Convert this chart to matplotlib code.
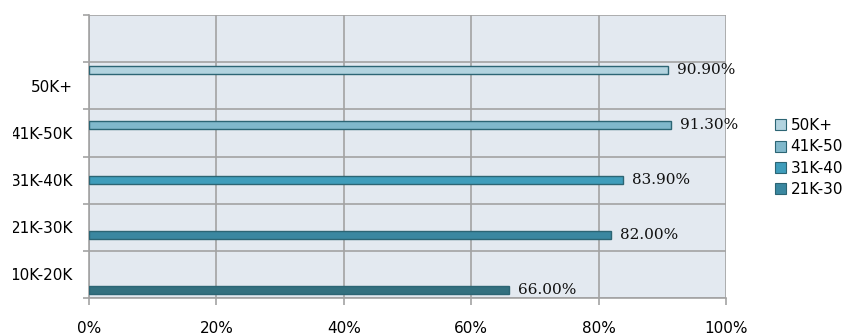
import matplotlib
matplotlib.use("Agg")
from matplotlib import pyplot as plt
from matplotlib.patches import Patch
from matplotlib.transforms import Bbox, TransformedBbox

categories = ["10K-20K", "21K-30K", "31K-40K", "41K-50K", "50K+", ""]
series_names = ["10K-20K", "21K-30K", "31K-40K", "41K-50K", "50K+"]
values = [66.0, 82.0, 83.9, 91.3, 90.9]
value_labels = ["66.00%", "82.00%", "83.90%", "91.30%", "90.90%"]
legend_names = ["50K+", "41K-50", "31K-40", "21K-30"]
x_ticks = [0, 20, 40, 60, 80, 100]
x_tick_labels = ["0%", "20%", "40%", "60%", "80%", "100%"]

fills = ["#33707f", "#3a87a0", "#3f9dbb", "#80b8cb", "#b2d3df"]
edge = "#2c6574"
grid_c = "#a3a3a3"
sans = "DejaVu Sans"

W, H = 846, 336
fig = plt.figure(figsize=(W / 100, H / 100), dpi=100)
ax = fig.add_axes([89 / W, 38 / H, 637 / W, 283 / H])
ax.set_facecolor("#e3e9f0")

# each category holds one series, clustered like a 5-series bar chart
slot = 0.163
bar_h = 0.165
for i, (name, v) in enumerate(zip(series_names, values)):
    y = i + (i - 2) * slot
    ax.barh(y, v, height=bar_h, color=fills[i], edgecolor=edge, linewidth=1.0, zorder=3)
    ax.annotate(value_labels[i], (v, y), xytext=(6.5, 0), textcoords="offset points",
                va="center", ha="left", fontsize=11, family="DejaVu Serif",
                color="#111111", zorder=4, annotation_clip=False)

ax.set_xlim(0, 100)
ax.set_ylim(-0.5, len(categories) - 0.5)

ax.set_xticks(x_ticks)
ax.set_xticklabels(x_tick_labels, fontsize=11, family=sans, color="#000000")
ax.set_yticks(range(len(categories)))
ax.set_yticklabels(categories, fontsize=11, family=sans, color="#000000")
ax.set_yticks([k - 0.5 for k in range(len(categories) + 1)], minor=True)
ax.tick_params(axis="y", which="major", length=0, pad=11.5)
ax.tick_params(axis="y", which="minor", length=4, width=1.2, color=grid_c, direction="out")
ax.tick_params(axis="x", which="major", length=5, width=1.2, color=grid_c, pad=11.5)

ax.grid(axis="x", which="major", color=grid_c, linewidth=1.2, zorder=1)
ax.grid(axis="y", which="minor", color=grid_c, linewidth=1.2, zorder=1)
ax.set_axisbelow(True)
for side in ["top", "right"]:
    ax.spines[side].set_visible(False)
for side in ["left", "bottom"]:
    ax.spines[side].set_color(grid_c)
    ax.spines[side].set_linewidth(1.2)

# the source chart cuts the long category names at its left margin
clip = TransformedBbox(Bbox([[12.5 / W, 0], [1, 1]]), fig.transFigure)
for lab in ax.get_yticklabels():
    lab.set_clip_box(clip)
    lab.set_clip_on(True)

handles = [Patch(facecolor=fills[k], edgecolor=edge, linewidth=0.8) for k in [4, 3, 2, 1]]
fig.legend(handles, legend_names, loc="upper left", bbox_to_anchor=(775 / W, 1 - 118 / H),
           frameon=False, borderpad=0, borderaxespad=0, handlelength=0.72, handleheight=0.72,
           handletextpad=0.3, labelspacing=0.42,
           prop={"family": sans, "size": 11})

fig.savefig("out.png", dpi=100, facecolor="white")
